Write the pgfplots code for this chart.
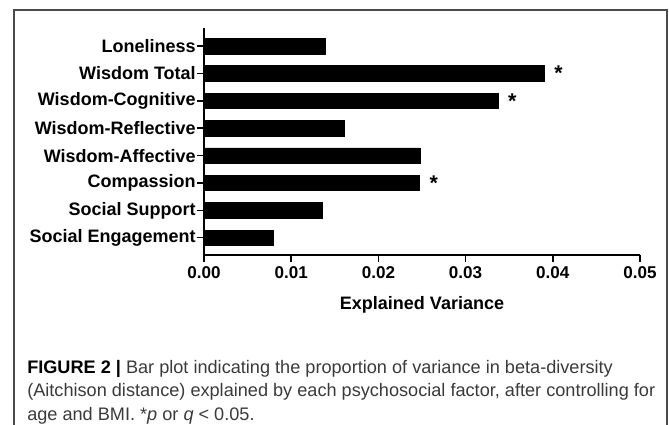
\documentclass[border=0pt]{standalone}
\usepackage{fontspec}
\setmainfont{Liberation Sans}
\usepackage{pgfplots}
\pgfplotsset{compat=1.18}
\definecolor{framegray}{HTML}{4A4A4A}
\definecolor{capgray}{HTML}{3A3A3A}

\begin{document}
\begin{tikzpicture}
\useasboundingbox (0,0) rectangle (501.75pt,-318.75pt);
% frame round figure and caption
\draw[framegray, line width=1pt] (10.5pt,-330pt) -- (10.5pt,-7.5pt) -- (500.25pt,-7.5pt) -- (500.25pt,-330pt);
\begin{axis}[
    at={(153pt,-191.25pt)}, anchor=south west,
    scale only axis, width=327pt, height=170.25pt,
    xmin=0, xmax=0.05, ymin=-0.63, ymax=7.66,
    axis x line*=bottom, axis y line*=left,
    axis line style={line width=1.1pt},
    tick style={line width=1.1pt, black},
    major tick length=5pt, tick align=outside,
    xtick={0,0.01,0.02,0.03,0.04,0.05},
    scaled x ticks=false,
    /pgf/number format/fixed, /pgf/number format/fixed zerofill,
    /pgf/number format/precision=2, /pgf/number format/assume math mode=true,
    xticklabel style={font=\bfseries\fontsize{12.8}{14}\selectfont},
    ytick={0,...,7},
    yticklabels={Social Engagement, Social Support, Compassion, Wisdom-Affective,
                 Wisdom-Reflective, Wisdom-Cognitive, Wisdom Total, Loneliness},
    yticklabel style={font=\bfseries\fontsize{13.5}{16}\selectfont, inner sep=1pt},
    xlabel={Explained Variance},
    xlabel style={font=\bfseries\fontsize{13.5}{16}\selectfont,
                  at={(axis description cs:0.5,0)}, anchor=center, yshift=-37.5pt},
]
\addplot[xbar, bar width=11.6pt, fill=black, draw=black] coordinates {
    (0.0079,0) (0.0136,1) (0.0247,2) (0.0248,3)
    (0.0161,4) (0.0337,5) (0.0390,6) (0.0139,7)};
% significance marks
\addplot[draw=none, nodes near coords={*}, nodes near coords align={horizontal},
    every node near coord/.append style={inner sep=0pt, xshift=7.5pt,
        font=\bfseries\fontsize{16}{18}\selectfont}] coordinates {
    (0.0390,6) (0.0337,5) (0.0247,2)};
\end{axis}
\begin{scope}[every node/.style={anchor=base west, inner sep=0pt, text=capgray,
        font=\fontsize{13.6}{16}\selectfont}]
\node at (20.25pt,-279.75pt) {\textcolor{black}{\textbf{FIGURE 2 |}} Bar plot indicating the proportion of variance in beta-diversity};
\node at (20.25pt,-297.4pt) {(Aitchison distance) explained by each psychosocial factor, after controlling for};
\node at (20.25pt,-315pt) {age and BMI. *\textit{p} or \textit{q} < 0.05.};
\end{scope}
\end{tikzpicture}
\end{document}
